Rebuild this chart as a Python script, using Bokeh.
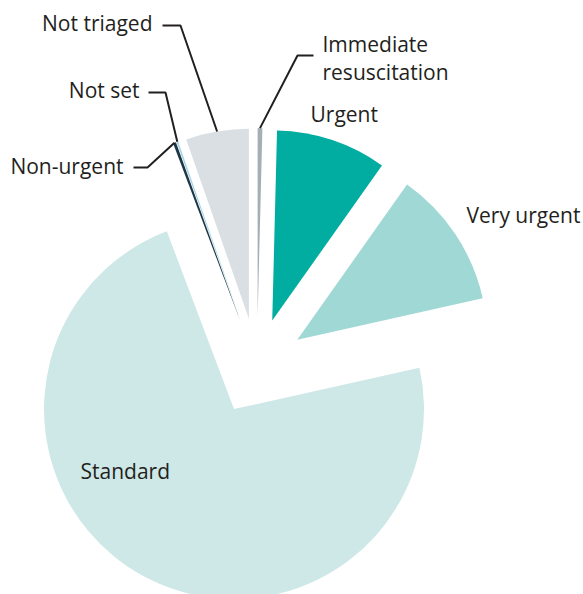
import math
from bokeh.plotting import figure
from bokeh.models import Range1d, ColumnDataSource
from bokeh.core.properties import value
from bokeh.embed import file_html
from bokeh.resources import INLINE

# ---- data (clockwise from 12 o'clock) ----
categories = ["Immediate resuscitation", "Urgent", "Very urgent", "Standard",
              "Non-urgent", "Not set", "Not triaged"]
shares = [0.4, 9.4, 11.7, 72.75, 0.25, 0.15, 5.35]
colors = ["#a3aeb5", "#00ada0", "#9fd8d5", "#cde8e6", "#1d3547", "#a9d6e3", "#d9dfe2"]

# ---- layout ----
W, H = 583, 594
CX, CY_S = 256.5, 366.0   # pie centre (page px)
R = 190.0
EXPLODE = 48.4
FONT = value("Open Sans")
FSIZE = "21px"
TXT = "#231f20"
TEXT_SHIFT = 9  # renderer places glyphs lower than the nominal baseline


def dy(screen_y):
    return H - screen_y


p = figure(width=W, height=H, output_backend="svg", toolbar_location=None,
           x_range=Range1d(0, W), y_range=Range1d(0, H),
           x_axis_location=None, y_axis_location=None, min_border=0)
p.grid.visible = False
p.outline_line_color = None
p.background_fill_color = "white"

total = sum(shares)
cum = 0.0
xs, ys, st, en, mids = [], [], [], [], []
for s in shares:
    a0 = math.pi / 2 - 2 * math.pi * cum / total
    a1 = math.pi / 2 - 2 * math.pi * (cum + s) / total
    m = (a0 + a1) / 2
    xs.append(CX + EXPLODE * math.cos(m))
    ys.append(dy(CY_S) + EXPLODE * math.sin(m))
    st.append(a0)
    en.append(a1)
    mids.append(m)
    cum += s

src = ColumnDataSource(dict(x=xs, y=ys, start=st, end=en, color=colors, cat=categories))
p.wedge(x="x", y="y", radius=R, start_angle="start", end_angle="end", direction="clock",
        fill_color="color", line_color=None, source=src)

# ---- leader lines for small slices: (category, elbow, tail) in page px ----
leaders = [
    ("Not triaged", (180, 25), (162, 25)),
    ("Not set", (165, 92), (148, 92)),
    ("Non-urgent", (147, 167), (133, 167)),
    ("Immediate resuscitation", (297, 55), (313, 55)),
]
lx, ly = [], []
for cat, elbow, tail in leaders:
    i = categories.index(cat)
    ax = xs[i] + R * math.cos(mids[i])
    ay = ys[i] + R * math.sin(mids[i])
    lx.append([ax, elbow[0], tail[0]])
    ly.append([ay, dy(elbow[1]), dy(tail[1])])
p.multi_line(xs=lx, ys=ly, line_color=TXT, line_width=2)

# ---- labels (x, baseline in page px) ----
right_labels = [("Not triaged", 152, 31), ("Not set", 139, 98), ("Non-urgent", 123, 174)]
left_labels = [("Immediate", 322, 52), ("resuscitation", 322, 80), ("Urgent", 310, 122),
               ("Very urgent", 466, 223), ("Standard", 80, 479)]

p.text(x=[t[1] for t in right_labels], y=[dy(t[2] - TEXT_SHIFT) for t in right_labels],
       text=[t[0] for t in right_labels], text_align="right", text_baseline="alphabetic",
       text_font=FONT, text_font_size=FSIZE, text_color=TXT)
p.text(x=[t[1] for t in left_labels], y=[dy(t[2] - TEXT_SHIFT) for t in left_labels],
       text=[t[0] for t in left_labels], text_align="left", text_baseline="alphabetic",
       text_font=FONT, text_font_size=FSIZE, text_color=TXT)

open("out.html", "w").write(file_html(p, INLINE))
